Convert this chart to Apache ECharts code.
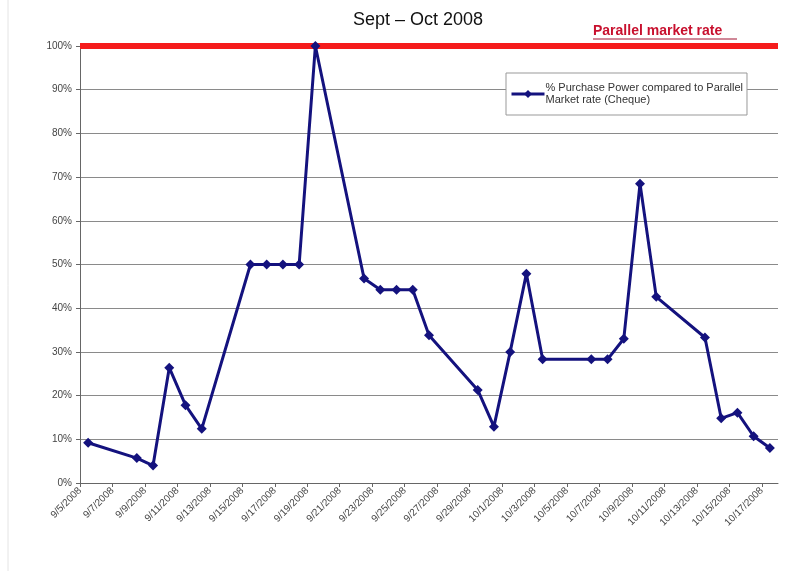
<!DOCTYPE html>
<html>
<head>
<meta charset="utf-8">
<title>Sept – Oct 2008</title>
<script src="https://cdn.jsdelivr.net/npm/echarts@6/dist/echarts.min.js"></script>
<style>
  html, body { margin: 0; padding: 0; background: #fff; }
  #chart { width: 811px; height: 571px; }
</style>
</head>
<body>
<div id="chart"></div>
<script>
// data
var startDate = '9/5/2008'
var endDay = 43 // axis runs 9/5 .. end of 10/17
var dates = [
  '9/5/2008', '9/8/2008', '9/9/2008', '9/10/2008', '9/11/2008', '9/12/2008',
  '9/15/2008', '9/16/2008', '9/17/2008', '9/18/2008', '9/19/2008',
  '9/22/2008', '9/23/2008', '9/24/2008', '9/25/2008', '9/26/2008',
  '9/29/2008', '9/30/2008', '10/1/2008', '10/2/2008', '10/3/2008',
  '10/6/2008', '10/7/2008', '10/8/2008', '10/9/2008', '10/10/2008',
  '10/13/2008', '10/14/2008', '10/15/2008', '10/16/2008', '10/17/2008'
]
var purchasePower = [
  9.2, 5.7, 4.0, 26.4, 17.8, 12.4,
  50, 50, 50, 50, 100,
  46.8, 44.2, 44.2, 44.2, 33.8,
  21.3, 12.9, 30.0, 47.9, 28.3,
  28.3, 28.3, 33.0, 68.5, 42.6,
  33.3, 14.8, 16.1, 10.7, 8.0
]
var parallelRate = 100
var yTicks = [0, 10, 20, 30, 40, 50, 60, 70, 80, 90, 100]

function parseDate(s) {
  var p = s.split('/')
  return Date.UTC(+p[2], +p[0] - 1, +p[1])
}
var t0 = parseDate(startDate)
function dayIndex(s) {
  return Math.round((parseDate(s) - t0) / 86400000)
}
function dayLabel(v) {
  var d = new Date(t0 + v * 86400000)
  return (d.getUTCMonth() + 1) + '/' + d.getUTCDate() + '/' + d.getUTCFullYear()
}

// each day is a slot, the point sits in the middle of it (like Excel's date axis)
var seriesData = dates.map(function (d, i) {
  return [dayIndex(d) + 0.5, purchasePower[i]]
})

var chart = echarts.init(document.getElementById('chart'))
var font = '"Liberation Sans", Arial, sans-serif'

var option = {
  backgroundColor: '#fff',
  animation: false,
  title: {
    text: 'Sept – Oct 2008',
    left: 413,
    textAlign: 'center',
    top: 6,
    textStyle: { fontFamily: font, fontSize: 18, fontWeight: 'normal', color: '#111' }
  },
  legend: {
    data: ['% Purchase Power compared to Parallel Market rate (Cheque)'],
    left: 506,
    top: 73,
    orient: 'vertical',
    padding: [3, 4, 3, 4],
    borderColor: '#999',
    borderWidth: 1,
    backgroundColor: '#fff',
    itemWidth: 33,
    itemHeight: 10,
    lineStyle: { width: 3 },
    formatter: function () {
      return '% Purchase Power compared to Parallel\nMarket rate (Cheque)'
    },
    textStyle: {
      fontFamily: font,
      fontSize: 11,
      color: '#333',
      lineHeight: 12,
      padding: [12, 0, 0, -4]
    }
  },
  grid: {
    left: 80,
    right: 33,
    top: 46,
    bottom: 88
  },
  xAxis: {
    type: 'value',
    min: 0,
    max: endDay,
    interval: 2,
    axisLine: { show: true, lineStyle: { color: '#666', width: 1 } },
    axisTick: { show: true, length: 4, lineStyle: { color: '#666' } },
    splitLine: { show: false },
    axisLabel: {
      rotate: 45,
      margin: 6,
      showMaxLabel: false,
      fontFamily: font,
      fontSize: 10,
      color: '#444',
      formatter: dayLabel
    }
  },
  yAxis: {
    type: 'value',
    min: yTicks[0],
    max: yTicks[yTicks.length - 1],
    interval: 10,
    axisLine: { show: true, lineStyle: { color: '#666', width: 1 } },
    axisTick: { show: true, length: 4, lineStyle: { color: '#666' } },
    splitLine: { show: true, lineStyle: { color: '#8a8a8a', width: 1 } },
    axisLabel: {
      margin: 8,
      fontFamily: font,
      fontSize: 10,
      color: '#444',
      formatter: '{value}%'
    }
  },
  series: [
    {
      name: 'Parallel market rate',
      type: 'line',
      data: [[0, parallelRate], [endDay, parallelRate]],
      symbol: 'none',
      lineStyle: { color: '#f51c1c', width: 6 },
      z: 1,
      silent: true
    },
    {
      name: '% Purchase Power compared to Parallel Market rate (Cheque)',
      type: 'line',
      data: seriesData,
      symbol: 'diamond',
      symbolSize: 10,
      lineStyle: { color: '#14127e', width: 3 },
      itemStyle: { color: '#14127e' },
      z: 3
    }
  ],
  graphic: [
    {
      type: 'text',
      left: 593,
      top: 24,
      style: {
        text: 'Parallel market rate',
        fontFamily: font,
        fontSize: 14,
        fontWeight: 'bold',
        fill: '#c8102e'
      }
    },
    {
      type: 'line',
      shape: { x1: 593, y1: 39, x2: 737, y2: 39 },
      style: { stroke: '#a01030', lineWidth: 1 }
    },
    {
      type: 'line',
      shape: { x1: 8, y1: 0, x2: 8, y2: 571 },
      style: { stroke: '#e4e4e4', lineWidth: 1 }
    }
  ]
}

chart.setOption(option)
</script>
</body>
</html>
